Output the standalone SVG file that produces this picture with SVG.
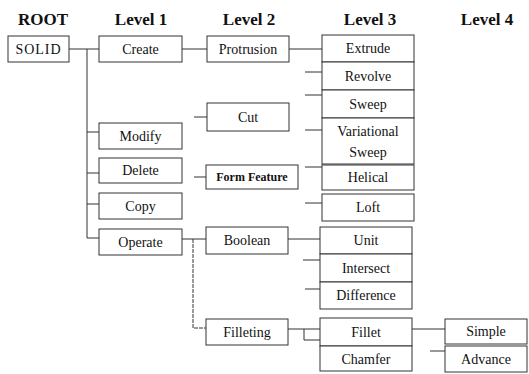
<svg xmlns="http://www.w3.org/2000/svg" width="529" height="374" viewBox="0 0 529 374">
<style>
text{font-family:'Liberation Serif','Times New Roman','DejaVu Serif',serif}
.h{font-weight:bold;font-size:17px;text-anchor:middle;fill:#111}
.b{fill:#fff;stroke:#333;stroke-width:1}
.t{font-size:14px;text-anchor:middle;fill:#111}
.s{font-size:12px;font-weight:bold;text-anchor:middle;fill:#111}
.c{fill:none;stroke:#333;stroke-width:1}
.d{fill:none;stroke:#333;stroke-width:1;stroke-dasharray:4 1}
</style>
<rect width="529" height="374" fill="#fff"/>
<g id="headers">
<text class="h" x="43" y="25">ROOT</text>
<text class="h" x="141" y="25">Level 1</text>
<text class="h" x="249" y="25">Level 2</text>
<text class="h" x="370" y="25">Level 3</text>
<text class="h" x="487" y="25">Level 4</text>
</g>
<g id="connectors">
<path class="c" d="M69 49H99M87 49V238H99M87 132H99M87 173H99M87 204H99"/>
<path class="c" d="M182 49H207M289 49H322"/>
<path class="c" d="M194 117H207M194 177H206"/>
<path class="c" d="M305 72H322M305 95H322M305 130H322M305 167H322M305 203H322"/>
<path class="c" d="M182 239H206M288 239H320"/>
<path class="d" d="M193 239V328H206"/>
<path class="c" d="M303 260H320M305 289H320"/>
<path class="c" d="M288 329H320M304 329V340H320"/>
<path class="c" d="M412 329H445M430 351H445"/>
</g>
<g id="solid"><rect class="b" x="8" y="36" width="61" height="26"/><text class="t" x="38.5" y="54" letter-spacing="1">SOLID</text></g>
<g id="create"><rect class="b" x="99" y="36" width="83" height="26"/><text class="t" x="140.5" y="54">Create</text></g>
<g id="modify"><rect class="b" x="99" y="123" width="83" height="26"/><text class="t" x="140.5" y="141">Modify</text></g>
<g id="delete"><rect class="b" x="99" y="158" width="83" height="25"/><text class="t" x="140.5" y="175">Delete</text></g>
<g id="copy"><rect class="b" x="99" y="193" width="83" height="26"/><text class="t" x="140.5" y="211">Copy</text></g>
<g id="operate"><rect class="b" x="99" y="229" width="83" height="26"/><text class="t" x="140.5" y="247">Operate</text></g>
<g id="protrusion"><rect class="b" x="207" y="36" width="82" height="26"/><text class="t" x="248" y="54">Protrusion</text></g>
<g id="cut"><rect class="b" x="207" y="103" width="82" height="28"/><text class="t" x="248" y="122">Cut</text></g>
<g id="formfeature"><rect class="b" x="206" y="165" width="92" height="24"/><text class="s" x="252" y="181">Form Feature</text></g>
<g id="boolean"><rect class="b" x="206" y="227" width="82" height="27"/><text class="t" x="247" y="245">Boolean</text></g>
<g id="filleting"><rect class="b" x="206" y="319" width="82" height="26"/><text class="t" x="247" y="337">Filleting</text></g>
<g id="extrude"><rect class="b" x="322" y="35" width="92" height="27"/><text class="t" x="368" y="53">Extrude</text></g>
<g id="revolve"><rect class="b" x="322" y="62" width="92" height="28"/><text class="t" x="368" y="81">Revolve</text></g>
<g id="sweep"><rect class="b" x="322" y="90" width="92" height="28"/><text class="t" x="368" y="109">Sweep</text></g>
<g id="variational"><rect class="b" x="322" y="118" width="92" height="46"/><text class="t" x="368" y="136">Variational</text><text class="t" x="368" y="157">Sweep</text></g>
<g id="helical"><rect class="b" x="322" y="165" width="92" height="25"/><text class="t" x="368" y="182">Helical</text></g>
<g id="loft"><rect class="b" x="322" y="194" width="92" height="27"/><text class="t" x="368" y="212">Loft</text></g>
<g id="unit"><rect class="b" x="320" y="227" width="92" height="27"/><text class="t" x="366" y="245">Unit</text></g>
<g id="intersect"><rect class="b" x="320" y="254" width="92" height="28"/><text class="t" x="366" y="273">Intersect</text></g>
<g id="difference"><rect class="b" x="320" y="282" width="92" height="27"/><text class="t" x="366" y="300">Difference</text></g>
<g id="fillet"><rect class="b" x="320" y="318" width="92" height="28"/><text class="t" x="366" y="337">Fillet</text></g>
<g id="chamfer"><rect class="b" x="320" y="346" width="92" height="25"/><text class="t" x="366" y="364">Chamfer</text></g>
<g id="simple"><rect class="b" x="445" y="319" width="82" height="25"/><text class="t" x="486" y="336">Simple</text></g>
<g id="advance"><rect class="b" x="445" y="346" width="82" height="26"/><text class="t" x="486" y="364">Advance</text></g>
</svg>
